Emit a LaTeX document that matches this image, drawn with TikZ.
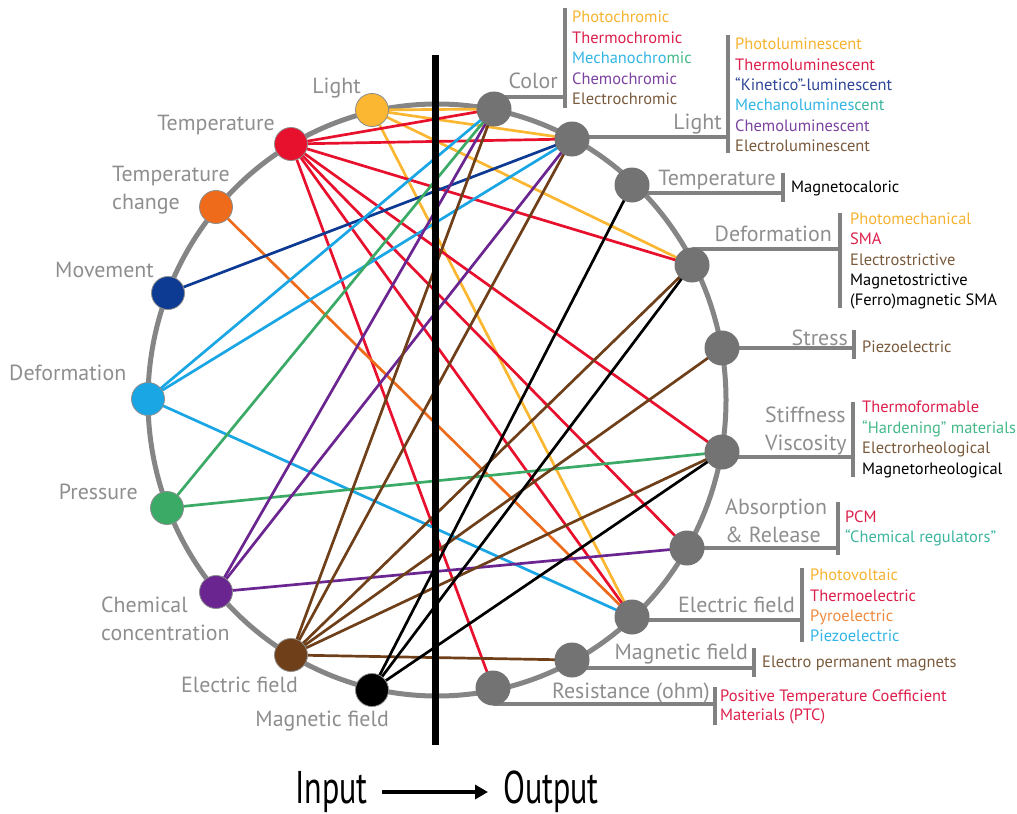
\documentclass[tikz,border=0pt]{standalone}
\usepackage{fontspec}
\setmainfont{PT Sans}
\newfontfamily\condfont[FakeStretch=0.7]{PT Sans}
\usetikzlibrary{backgrounds,arrows.meta}
\definecolor{cyel}{HTML}{FBB731}
\definecolor{cred}{HTML}{E8112D}
\definecolor{cora}{HTML}{EE6B1C}
\definecolor{cdblue}{HTML}{0D3B94}
\definecolor{clblue}{HTML}{1AA6E4}
\definecolor{cgreen}{HTML}{3BAA66}
\definecolor{cpurp}{HTML}{6B2590}
\definecolor{cbrown}{HTML}{6E3F18}
\definecolor{cnode}{HTML}{737373}
\definecolor{cring}{HTML}{858585}
\definecolor{ctext}{HTML}{8E8E8E}
\definecolor{tyel}{HTML}{F6B330}
\definecolor{tred}{HTML}{DC1F4B}
\definecolor{tcyan}{HTML}{33B5E5}
\definecolor{tgreen}{HTML}{45B98A}
\definecolor{tpurp}{HTML}{7B43A0}
\definecolor{tbrown}{HTML}{7A5A3C}
\definecolor{tdblue}{HTML}{2F4597}
\definecolor{tteal}{HTML}{3DB5A0}
\definecolor{torange}{HTML}{EF8B3F}
\begin{document}
\begin{tikzpicture}[x=1bp,y=-1bp,
  inode/.style={circle, minimum size=33bp, inner sep=0pt, draw=black!45, line width=0.8bp},
  onode/.style={circle, minimum size=35bp, inner sep=0pt, fill=cnode},
  conn/.style={line width=2.7bp},
  ring/.style={draw=cring, line width=5bp},
  lead/.style={draw=cnode!90, line width=3.2bp},
  bar/.style={draw=cnode!90, line width=3.6bp},
  lab/.style={text=ctext, inner sep=0pt, font=\fontsize{22}{27.5}\selectfont},
  items/.style={inner sep=0pt, anchor=west, align=left, font=\fontsize{16.5}{20.5}\selectfont},
  big/.style={inner sep=0pt, font=\condfont\fontsize{46}{50}\selectfont}]
\useasboundingbox (0,0) rectangle (1017,814);

% input nodes
\node[inode, fill=cyel]   (iLight)  at (372,110) {};
\node[inode, fill=cred]   (iTemp)   at (291,144) {};
\node[inode, fill=cora]   (iTempCh) at (216,207) {};
\node[inode, fill=cdblue] (iMove)   at (168,293) {};
\node[inode, fill=clblue] (iDeform) at (148,399) {};
\node[inode, fill=cgreen] (iPress)  at (167,508) {};
\node[inode, fill=cpurp]  (iChem)   at (216,592) {};
\node[inode, fill=cbrown] (iElec)   at (291,655) {};
\node[inode, fill=black]  (iMag)    at (372,690) {};
% output nodes
\node[onode] (oColor)  at (494,109) {};
\node[onode] (oLight)  at (572,139) {};
\node[onode] (oTemp)   at (632,185) {};
\node[onode] (oDeform) at (692,265) {};
\node[onode] (oStress) at (722,348) {};
\node[onode] (oStiff)  at (722,452) {};
\node[onode] (oAbs)    at (687,548) {};
\node[onode] (oElec)   at (632,617) {};
\node[onode] (oMag)    at (572,660) {};
\node[onode] (oRes)    at (493,688) {};

% lead / bar coordinates
\coordinate (bColor) at (565,97);  \coordinate (bColorT) at (565,8);   \coordinate (bColorB) at (565,108);
\coordinate (bLight) at (728,137); \coordinate (bLightT) at (728,35);  \coordinate (bLightB) at (728,153);
\coordinate (bTemp) at (783,193);  \coordinate (bTempT) at (783,173);  \coordinate (bTempB) at (783,202);
\coordinate (bDef) at (840,249);   \coordinate (bDefT) at (840,213);   \coordinate (bDefB) at (840,308);
\coordinate (bStr) at (854,348);   \coordinate (bStrT) at (854,330);   \coordinate (bStrB) at (854,359);
\coordinate (bStf) at (853,457);   \coordinate (bStfT) at (853,402);   \coordinate (bStfB) at (853,477);
\coordinate (bAbs) at (838,548);   \coordinate (bAbsT) at (838,502);   \coordinate (bAbsB) at (838,555);
\coordinate (bEl) at (802,620);    \coordinate (bElT) at (802,568);    \coordinate (bElB) at (802,642);
\coordinate (bMg) at (754,668);    \coordinate (bMgT) at (754,648);    \coordinate (bMgB) at (754,677);
\coordinate (bRs) at (715,704);    \coordinate (bRsT) at (715,687);    \coordinate (bRsB) at (715,725);

\begin{pgfonlayer}{background}
  \draw[ring] (437,400) ellipse [x radius=289bp, y radius=296bp];
  \foreach \n/\b in {oColor/bColor,oLight/bLight,oTemp/bTemp,oDeform/bDef,oStress/bStr,oStiff/bStf,oAbs/bAbs,oElec/bEl,oMag/bMg,oRes/bRs}
    \draw[lead] (\n.center |- \b) -- (\b);
  % connectors
  \foreach \t in {oColor,oLight,oDeform,oElec} \draw[conn, cyel] (iLight.center) -- (\t.center);
  \foreach \t in {oColor,oLight,oDeform,oStiff,oAbs,oElec,oRes} \draw[conn, cred] (iTemp.center) -- (\t.center);
  \draw[conn, cora] (iTempCh.center) -- (oElec.center);
  \draw[conn, cdblue] (iMove.center) -- (oLight.center);
  \foreach \t in {oColor,oLight,oElec} \draw[conn, clblue] (iDeform.center) -- (\t.center);
  \foreach \t in {oColor,oStiff} \draw[conn, cgreen] (iPress.center) -- (\t.center);
  \foreach \t in {oColor,oLight,oAbs} \draw[conn, cpurp] (iChem.center) -- (\t.center);
  \foreach \t in {oColor,oLight,oDeform,oStress,oStiff,oMag} \draw[conn, cbrown] (iElec.center) -- (\t.center);
  \foreach \t in {oTemp,oDeform,oStiff} \draw[conn, black] (iMag.center) -- (\t.center);
\end{pgfonlayer}

% vertical bars of the output lists
\draw[bar] (bColorT) -- (bColorB);
\draw[bar] (bLightT) -- (bLightB);
\draw[bar] (bTempT) -- (bTempB);
\draw[bar] (bDefT) -- (bDefB);
\draw[bar] (bStrT) -- (bStrB);
\draw[bar] (bStfT) -- (bStfB);
\draw[bar] (bAbsT) -- (bAbsB);
\draw[bar] (bElT) -- (bElB);
\draw[bar] (bMgT) -- (bMgB);
\draw[bar] (bRsT) -- (bRsB);

% central divider
\coordinate (divT) at (435,55);
\coordinate (divB) at (435,745);
\draw[line width=7bp] (divT) -- (divB);

% input labels
\node[lab, anchor=east] (tLight) at (361,88) {Light};
\node[lab, anchor=east] (tTemp) at (275,125) {Temperature};
\node[lab, anchor=west, align=left] (tTempCh) at (112,190) {Temperature\\change};
\node[lab, anchor=east] (tMove) at (154,270) {Movement};
\node[lab, anchor=west] (tDeform) at (9,373) {Deformation};
\node[lab, anchor=east] (tPress) at (138,492) {Pressure};
\node[lab, anchor=west, align=left] (tChem) at (101,619) {Chemical\\concentration};
\node[lab, anchor=east] (tElec) at (298,685) {Electric field};
\node[lab, anchor=east] (tMag) at (389,721) {Magnetic field};

% output labels
\node[lab, anchor=east] (uColor) at (558,81) {Color};
\node[lab, anchor=east] (uLight) at (722,124) {Light};
\node[lab, anchor=east] (uTemp) at (776,180) {Temperature};
\node[lab, anchor=east] (uDef) at (832,234) {Deformation};
\node[lab, anchor=east] (uStr) at (848,338) {Stress};
\node[lab, anchor=west, align=left] (uStf) at (765,431) {Stiffness\\Viscosity};
\node[lab, anchor=west, align=left] (uAbs) at (725,521) {Absorption\\\&~Release};
\node[lab, anchor=east] (uEl) at (795,605) {Electric field};
\node[lab, anchor=east] (uMg) at (748,654) {Magnetic field};
\node[lab, anchor=east] (uRs) at (710,693) {Resistance (ohm)};

% output item lists
\node[items] (lColor) at (572,58) {\textcolor{tyel}{Photochromic}\\\textcolor{tred}{Thermochromic}\\\textcolor{tcyan}{Mechanochro}\textcolor{tgreen}{mic}\\\textcolor{tpurp}{Chemochromic}\\\textcolor{tbrown}{Electrochromic}};
\node[items] (lLight) at (735,95) {\textcolor{tyel}{Photoluminescent}\\\textcolor{tred}{Thermoluminescent}\\\textcolor{tdblue}{“Kinetico”-luminescent}\\\textcolor{tcyan}{Mechanolumines}\textcolor{tteal}{cent}\\\textcolor{tpurp}{Chemoluminescent}\\\textcolor{tbrown}{Electroluminescent}};
\node[items] (lTemp) at (791,188) {Magnetocaloric};
\node[items] (lDef) at (850,261) {\textcolor{tyel}{Photomechanical}\\\textcolor{tred}{SMA}\\\textcolor{tbrown}{Electrostrictive}\\Magnetostrictive\\(Ferro)magnetic SMA};
\node[items] (lStr) at (862,347) {\textcolor{tbrown}{Piezoelectric}};
\node[items] (lStf) at (862,439.5) {\textcolor{tred}{Thermoformable}\\\textcolor{tgreen}{“Hardening” materials}\\\textcolor{tbrown}{Electrorheological}\\Magnetorheological};
\node[items] (lAbs) at (845,528.5) {\textcolor{tred}{PCM}\\\textcolor{tteal}{“Chemical regulators”}};
\node[items] (lEl) at (810,605.5) {\textcolor{tyel}{Photovoltaic}\\\textcolor{tred}{Thermoelectric}\\\textcolor{torange}{Pyroelectric}\\\textcolor{tcyan}{Piezoelectric}};
\node[items] (lMg) at (762,663) {\textcolor{tbrown}{Electro permanent magnets}};
\node[items, font=\fontsize{16.5}{19}\selectfont] (lRs) at (720,706.5) {\textcolor{tred}{Positive Temperature Coefficient}\\\textcolor{tred}{Materials (PTC)}};

% Input -> Output
\node[big, anchor=east] (tIn) at (368,792) {Input};
\node[big, anchor=west] (tOut) at (503,792) {Output};
\draw[line width=4bp, -{Triangle[length=13bp,width=14bp]}, shorten <=14bp, shorten >=15bp] (tIn.east) -- (tOut.west);
\end{tikzpicture}
\end{document}
